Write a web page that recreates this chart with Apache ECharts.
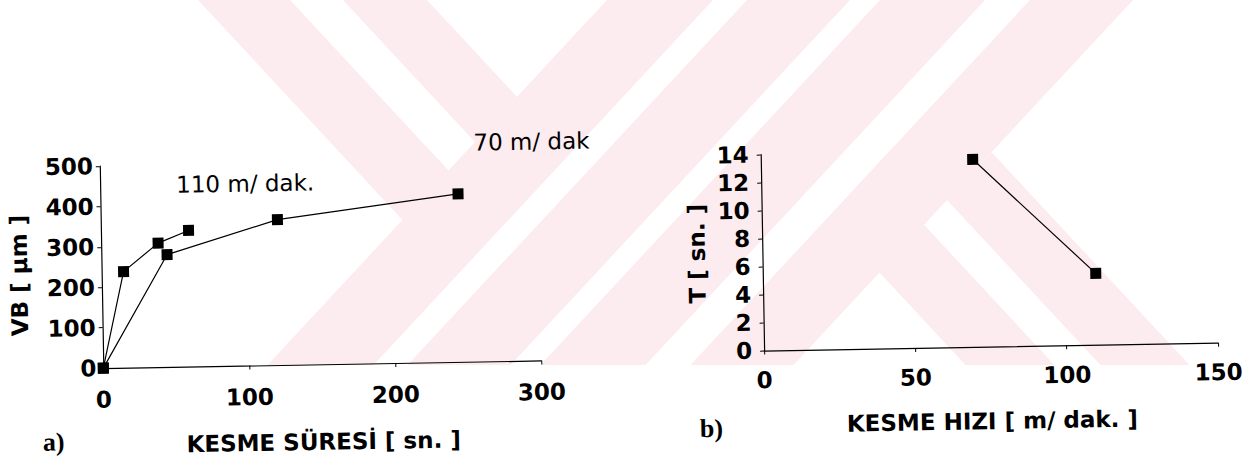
<!DOCTYPE html>
<html>
<head>
<meta charset="utf-8">
<script src="https://cdn.jsdelivr.net/npm/echarts@6/dist/echarts.min.js"></script>
<style>
  html, body { margin: 0; padding: 0; background: #fff; }
  #wrap { position: relative; width: 1249px; height: 461px; overflow: hidden; background: #fff; }
  #mark, #chart { position: absolute; left: 0; top: 0; width: 1249px; height: 461px; }
  /* the printed figure sits slightly askew on the page */
  #chart { transform: rotate(-1deg); transform-origin: 624.5px 230.5px; }
</style>
</head>
<body>
<div id="wrap">
  <div id="mark"></div>
  <div id="chart"></div>
</div>
<script>
// ---- panel a: flank wear VB against cutting time ----
const timeTicks = [0, 100, 200, 300];
const wearTicks = [0, 100, 200, 300, 400, 500];
const wear110 = [[0, 0], [15, 238], [39, 307], [60, 337]];   // 110 m/dak
const wear70 = [[0, 0], [45, 278], [121, 360], [245, 416]];   // 70 m/dak

// ---- panel b: tool life T against cutting speed ----
const speedTicks = [0, 50, 100, 150];
const lifeTicks = [0, 2, 4, 6, 8, 10, 12, 14];
const cuttingSpeed = [70, 110];
const toolLife = [13.4, 5.1];

const FONT = 'DejaVu Sans';
const INK = '#000';

function tickLabel(margin) {
  return { color: INK, fontFamily: FONT, fontWeight: 'bold', fontSize: 23, margin: margin };
}

function nameStyle(padding) {
  return { color: INK, fontFamily: FONT, fontWeight: 'bold', fontSize: 23, padding: padding };
}

function valueAxis(ticks, opts) {
  return Object.assign({
    type: 'value',
    min: ticks[0],
    max: ticks[ticks.length - 1],
    interval: ticks[1] - ticks[0],
    axisLine: { show: true, onZero: false, lineStyle: { color: INK, width: 1.2 } },
    axisTick: { show: true, length: 4, lineStyle: { color: INK, width: 1 } },
    splitLine: { show: false },
    nameLocation: 'middle',
    nameTextStyle: nameStyle(0)
  }, opts);
}

function lineSeries(data, xi, yi) {
  return {
    type: 'line',
    xAxisIndex: xi,
    yAxisIndex: yi,
    data: data,
    symbol: 'rect',
    symbolSize: 11,
    showAllSymbol: true,
    lineStyle: { color: INK, width: 1.2 },
    itemStyle: { color: INK },
    z: 3,
    animation: false
  };
}

const chart = echarts.init(document.getElementById('chart'), null, { renderer: 'svg' });
chart.setOption({
  backgroundColor: 'transparent',
  animation: false,
  grid: [
    { left: 101, top: 157, width: 438, height: 202, outerBoundsMode: 'none', containLabel: false },
    { left: 762, top: 157, width: 454, height: 196, outerBoundsMode: 'none', containLabel: false }
  ],
  xAxis: [
    valueAxis(timeTicks, { gridIndex: 0, name: 'KESME SÜRESİ [ sn. ]', nameGap: 66, axisLabel: tickLabel(20) }),
    valueAxis(speedTicks, { gridIndex: 1, name: 'KESME HIZI [ m/ dak. ]', nameGap: 63, axisLabel: tickLabel(18) })
  ],
  yAxis: [
    valueAxis(wearTicks, { gridIndex: 0, name: 'VB [ µm ]', nameGap: 71, axisLabel: tickLabel(7),
      nameTextStyle: nameStyle([0, 14, 0, 0]) }),
    valueAxis(lifeTicks, { gridIndex: 1, name: 'T [ sn. ]', nameGap: 54, axisLabel: tickLabel(12) })
  ],
  series: [
    lineSeries(wear110, 0, 0),
    lineSeries(wear70, 0, 0),
    lineSeries(cuttingSpeed.map((v, i) => [v, toolLife[i]]), 1, 1)
  ],
  graphic: [
    { type: 'text', x: 246, y: 177, z: 10,
      style: { text: '110 m/ dak.', fill: INK, font: '23px "DejaVu Sans"', align: 'center', verticalAlign: 'middle' } },
    { type: 'text', x: 533, y: 140, z: 10,
      style: { text: '70 m/ dak', fill: INK, font: '23px "DejaVu Sans"', align: 'center', verticalAlign: 'middle' } },
    { type: 'text', x: 50, y: 432, z: 10,
      style: { text: 'a)', fill: INK, font: 'bold 26px "Liberation Serif"', align: 'center', verticalAlign: 'middle' } },
    { type: 'text', x: 708, y: 430, z: 10,
      style: { text: 'b)', fill: INK, font: 'bold 26px "Liberation Serif"', align: 'center', verticalAlign: 'middle' } }
  ]
});

// ---- faint background watermark made of diagonal stripes ----
const K = 0.93;      // horizontal run per unit of drop along a stripe
const H = 365;       // stripes stop at this depth
const PINK = '#fcebef';
function meet(v, u) { return [(u + v) / 2, (u - v) / (2 * K)]; }
const rising = [[607, 713], [747, 850], [880, 985], [1030, 1133]];
const polys = [];
rising.forEach(([a, b]) => polys.push([[a, 0], [b, 0], [b - K * H, H], [a - K * H, H]]));
[[198, 290], [343, 427]].forEach(([a, b]) => polys.push([[a, 0], [b, 0], meet(b, 607), meet(a, 607)]));
[[626, 715], [761, 850]].forEach(([a, b]) => polys.push([meet(a, 1133), meet(b, 1133), [b + K * H, H], [a + K * H, H]]));

const mark = echarts.init(document.getElementById('mark'), null, { renderer: 'svg' });
mark.setOption({
  animation: false,
  graphic: polys.map(p => ({ type: 'polygon', silent: true, shape: { points: p }, style: { fill: PINK } }))
});
</script>
</body>
</html>
